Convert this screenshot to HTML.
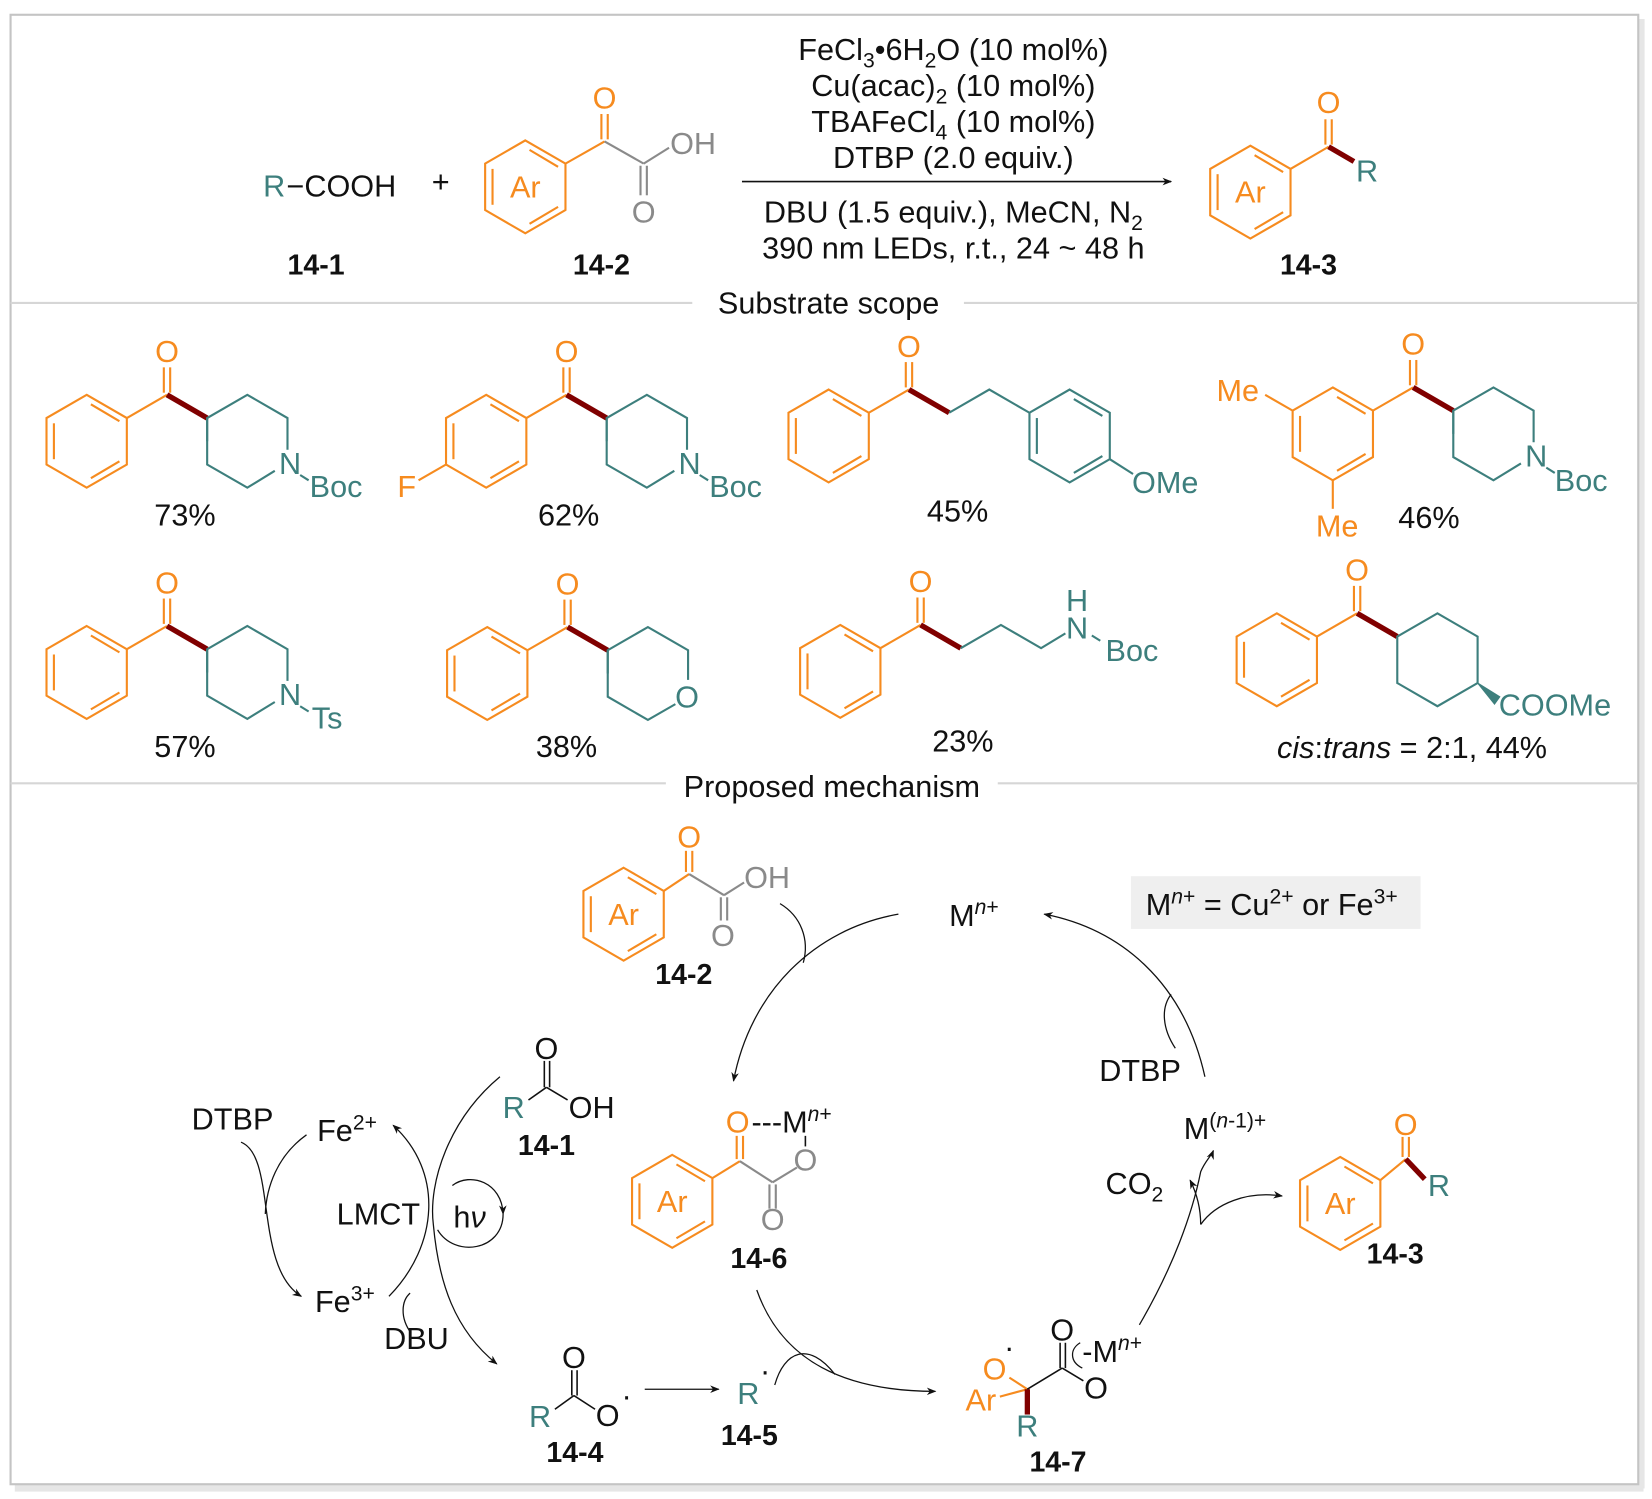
<!DOCTYPE html>
<html><head><meta charset="utf-8"><style>
html,body{margin:0;padding:0;background:#fff}
svg{display:block}
text{font-family:"Liberation Sans",Arial,sans-serif;font-size:29px}
.o{fill:#F68B1F}.t{fill:#3D7F7D}.g{fill:#8a8a8a}.k{fill:#111}.b{font-weight:bold;font-size:27px}
</style></head><body>
<svg width="1652" height="1499" viewBox="0 0 1563 1420" preserveAspectRatio="none" xmlns="http://www.w3.org/2000/svg">
<defs>
<marker id="ah" viewBox="0 0 10 10" refX="9" refY="5" markerWidth="9" markerHeight="9" orient="auto-start-reverse" markerUnits="userSpaceOnUse"><path d="M0,1 L10,5 L0,9 L3,5Z" fill="#111"/></marker>
<g id="bz" fill="none" stroke="#F68B1F" stroke-width="2">
<polygon points="0,-44 38,-22 38,22 0,44 -38,22 -38,-22"/>
<line x1="-31" y1="-17" x2="-31" y2="17"/><line x1="4" y1="-35" x2="31" y2="-19"/><line x1="4" y1="35" x2="31" y2="19"/>
</g>
<g id="bzt" fill="none" stroke="#3D7F7D" stroke-width="2">
<polygon points="0,-44 38,-22 38,22 0,44 -38,22 -38,-22"/>
<line x1="-31" y1="-17" x2="-31" y2="17"/><line x1="4" y1="-35" x2="31" y2="-19"/><line x1="4" y1="35" x2="31" y2="19"/>
</g>
<g id="arr"><use href="#bz"/><text x="0" y="10" text-anchor="middle" class="o">Ar</text></g>
<g id="bzco"><use href="#bz"/><g stroke="#F68B1F" stroke-width="2"><line x1="38" y1="-22" x2="76" y2="-44"/><line x1="73" y1="-46" x2="73" y2="-70"/><line x1="79" y1="-46" x2="79" y2="-70"/></g><text x="76" y="-75" text-anchor="middle" class="o">O</text><line x1="76" y1="-44" x2="114" y2="-22" stroke="#800000" stroke-width="5"/></g>
<g id="pip" fill="none" stroke="#3D7F7D" stroke-width="2"><polyline points="0,22 0,-0 38,-22 76,0 76,30"/><polyline points="0,0 0,44 38,66 64,50"/></g>
</defs>
<rect x="0" y="0" width="1563" height="1420" fill="#fff"/>
<rect x="14" y="1405" width="1541" height="8" fill="#e6e6e6"/>
<rect x="1550" y="18" width="6" height="1392" fill="#e6e6e6"/>
<rect x="10" y="14" width="1540" height="1392" fill="#fff" stroke="#c4c4c4" stroke-width="2"/>
<line x1="10" y1="287" x2="655" y2="287" stroke="#d6d6d6" stroke-width="2"/><line x1="912" y1="287" x2="1550" y2="287" stroke="#d6d6d6" stroke-width="2"/>
<text x="784" y="297" text-anchor="middle" class="k">Substrate scope</text>
<line x1="10" y1="742" x2="630" y2="742" stroke="#d6d6d6" stroke-width="2"/><line x1="944" y1="742" x2="1550" y2="742" stroke="#d6d6d6" stroke-width="2"/>
<text x="787" y="755" text-anchor="middle" class="k">Proposed mechanism</text>

<!-- TOP REACTION -->
<text x="249" y="186" class="t">R</text><text x="271" y="186" class="k">−COOH</text>
<text x="417" y="182" text-anchor="middle" class="k">+</text>
<use href="#arr" x="497" y="177"/>
<g stroke="#F68B1F" stroke-width="2"><line x1="535" y1="155" x2="572" y2="134"/><line x1="569" y1="132" x2="569" y2="108"/><line x1="575" y1="132" x2="575" y2="108"/></g>
<text x="572" y="103" text-anchor="middle" class="o">O</text>
<g stroke="#8a8a8a" stroke-width="2"><line x1="572" y1="134" x2="609" y2="155"/><line x1="609" y1="155" x2="633" y2="140"/><line x1="606" y1="157" x2="606" y2="185"/><line x1="612" y1="157" x2="612" y2="185"/></g>
<text x="634" y="146" class="g">OH</text><text x="609" y="211" text-anchor="middle" class="g">O</text>
<text x="299" y="260" text-anchor="middle" class="k b">14-1</text>
<text x="569" y="260" text-anchor="middle" class="k b">14-2</text>
<line x1="702" y1="172" x2="1108" y2="172" stroke="#111" stroke-width="1.5" marker-end="url(#ah)"/>
<g text-anchor="middle" class="k">
<text x="902" y="57">FeCl<tspan font-size="20" dy="7">3</tspan><tspan dy="-7">•6H</tspan><tspan font-size="20" dy="7">2</tspan><tspan dy="-7">O (10 mol%)</tspan></text>
<text x="902" y="91">Cu(acac)<tspan font-size="20" dy="7">2</tspan><tspan dy="-7"> (10 mol%)</tspan></text>
<text x="902" y="125">TBAFeCl<tspan font-size="20" dy="7">4</tspan><tspan dy="-7"> (10 mol%)</tspan></text>
<text x="902" y="159">DTBP (2.0 equiv.)</text>
<text x="902" y="211">DBU (1.5 equiv.), MeCN, N<tspan font-size="20" dy="7">2</tspan></text>
<text x="902" y="245">390 nm LEDs, r.t., 24 ~ 48 h</text>
</g>
<use href="#arr" x="1183" y="182"/>
<g stroke="#F68B1F" stroke-width="2"><line x1="1221" y1="160" x2="1257" y2="139"/><line x1="1254" y1="137" x2="1254" y2="113"/><line x1="1260" y1="137" x2="1260" y2="113"/></g>
<text x="1257" y="107" text-anchor="middle" class="o">O</text>
<line x1="1257" y1="139" x2="1281" y2="153" stroke="#800000" stroke-width="5"/>
<text x="1283" y="172" class="t">R</text>
<text x="1238" y="260" text-anchor="middle" class="k b">14-3</text>

<!-- SUBSTRATES ROW 1 -->
<use href="#bzco" x="82" y="418"/><use href="#pip" x="196" y="396"/>
<text x="264" y="449" class="t">N</text><line x1="284" y1="450" x2="292" y2="455" stroke="#3D7F7D" stroke-width="2"/><text x="293" y="471" class="t">Boc</text>
<text x="175" y="498" text-anchor="middle" class="k">73%</text>

<use href="#bzco" x="460" y="418"/><use href="#pip" x="574" y="396"/>
<line x1="422" y1="440" x2="396" y2="455" stroke="#F68B1F" stroke-width="2"/><text x="376" y="471" class="o">F</text>
<text x="642" y="449" class="t">N</text><line x1="662" y1="450" x2="670" y2="455" stroke="#3D7F7D" stroke-width="2"/><text x="671" y="471" class="t">Boc</text>
<text x="538" y="498" text-anchor="middle" class="k">62%</text>

<use href="#bzco" x="784" y="413"/>
<polyline points="898,391 936,369 974,391" fill="none" stroke="#3D7F7D" stroke-width="2"/>
<use href="#bzt" x="1012" y="413"/>
<line x1="1050" y1="435" x2="1072" y2="449" stroke="#3D7F7D" stroke-width="2"/>
<text x="1071" y="467" class="t">OMe</text>
<text x="906" y="494" text-anchor="middle" class="k">45%</text>

<use href="#bzco" x="1261" y="411"/><use href="#pip" x="1375" y="389"/>
<line x1="1223" y1="389" x2="1197" y2="374" stroke="#F68B1F" stroke-width="2"/><text x="1151" y="380" class="o">Me</text>
<line x1="1261" y1="455" x2="1261" y2="482" stroke="#F68B1F" stroke-width="2"/><text x="1245" y="508" class="o">Me</text>
<text x="1443" y="442" class="t">N</text><line x1="1463" y1="443" x2="1471" y2="448" stroke="#3D7F7D" stroke-width="2"/><text x="1471" y="465" class="t">Boc</text>
<text x="1352" y="500" text-anchor="middle" class="k">46%</text>

<!-- SUBSTRATES ROW 2 -->
<use href="#bzco" x="82" y="637"/><use href="#pip" x="196" y="615"/>
<text x="264" y="668" class="t">N</text><line x1="284" y1="669" x2="292" y2="674" stroke="#3D7F7D" stroke-width="2"/><text x="295" y="690" class="t">Ts</text>
<text x="175" y="717" text-anchor="middle" class="k">57%</text>

<use href="#bzco" x="461" y="638"/>
<g fill="none" stroke="#3D7F7D" stroke-width="2"><polyline points="575,638 575,616 613,594 651,616 651,644"/><polyline points="575,616 575,660 613,682 639,667"/></g>
<text x="650" y="670" text-anchor="middle" class="t">O</text>
<text x="536" y="717" text-anchor="middle" class="k">38%</text>

<use href="#bzco" x="795" y="636"/>
<polyline points="909,614 947,592 985,614 1008,600" fill="none" stroke="#3D7F7D" stroke-width="2"/>
<text x="1019" y="605" text-anchor="middle" class="t">N</text><text x="1019" y="579" text-anchor="middle" class="t">H</text>
<line x1="1033" y1="602" x2="1041" y2="607" stroke="#3D7F7D" stroke-width="2"/><text x="1046" y="626" class="t">Boc</text>
<text x="911" y="712" text-anchor="middle" class="k">23%</text>

<use href="#bzco" x="1208" y="625"/>
<polygon points="1322,603 1360,581 1398,603 1398,647 1360,669 1322,647" fill="none" stroke="#3D7F7D" stroke-width="2"/>
<polygon points="1398,647 1414,667 1419,660" fill="#3D7F7D" stroke="#3D7F7D" stroke-width="1"/>
<text x="1418" y="678" class="t">COOMe</text>
<text x="1336" y="718" text-anchor="middle" class="k"><tspan font-style="italic">cis</tspan>:<tspan font-style="italic">trans</tspan> = 2:1, 44%</text>

<!-- MECHANISM -->
<use href="#arr" x="590" y="866"/>
<g stroke="#F68B1F" stroke-width="2"><line x1="628" y1="844" x2="652" y2="828"/><line x1="649" y1="826" x2="649" y2="806"/><line x1="655" y1="826" x2="655" y2="806"/></g>
<text x="652" y="803" text-anchor="middle" class="o">O</text>
<g stroke="#8a8a8a" stroke-width="2"><line x1="652" y1="828" x2="685" y2="848"/><line x1="685" y1="848" x2="704" y2="836"/><line x1="682" y1="850" x2="682" y2="872"/><line x1="688" y1="850" x2="688" y2="872"/></g>
<text x="704" y="841" class="g">OH</text><text x="684" y="896" text-anchor="middle" class="g">O</text>
<text x="647" y="932" text-anchor="middle" class="k b">14-2</text>

<text x="898" y="877" class="k">M<tspan font-size="20" dy="-11" font-style="italic">n</tspan><tspan font-size="20">+</tspan></text>
<rect x="1070" y="830" width="274" height="50" fill="#efefef"/>
<text x="1084" y="867" class="k">M<tspan font-size="20" dy="-11" font-style="italic">n</tspan><tspan font-size="20">+</tspan><tspan dy="11"> = Cu</tspan><tspan font-size="20" dy="-11">2+</tspan><tspan dy="11"> or Fe</tspan><tspan font-size="20" dy="-11">3+</tspan></text>

<g fill="none" stroke="#111" stroke-width="1.2">
<path d="M850,866 C770,880 710,940 694,1024" marker-end="url(#ah)"/>
<path d="M738,856 C758,868 766,890 760,912"/>
<path d="M1140,1020 C1120,930 1060,880 988,866" marker-end="url(#ah)"/>
<path d="M1112,993 C1100,975 1098,955 1108,942"/>
<path d="M1078,1255 C1110,1200 1128,1150 1136,1110 C1140,1100 1146,1095 1148,1090" marker-end="url(#ah)"/>
<path d="M1136,1160 C1136,1145 1132,1130 1126,1118" marker-end="url(#ah)"/>
<path d="M1136,1160 C1150,1140 1180,1128 1213,1133" marker-end="url(#ah)"/>
<path d="M716,1222 C740,1290 800,1318 885,1318" marker-end="url(#ah)"/>
<path d="M733,1312 C742,1280 765,1270 790,1302"/>
<path d="M610,1316 L680,1316" marker-end="url(#ah)"/>
<path d="M228,1082 C262,1095 240,1200 285,1228" marker-end="url(#ah)"/>
<path d="M290,1075 C262,1095 252,1125 251,1150"/>
<path d="M368,1228 C415,1180 420,1110 372,1066" marker-end="url(#ah)"/>
<path d="M473,1020 C425,1060 405,1120 410,1160 C415,1215 430,1260 470,1292" marker-end="url(#ah)"/>
<path d="M389,1263 C378,1248 380,1232 388,1225"/>
<path d="M428,1123 C445,1110 475,1120 476,1150" marker-end="url(#ah)"/>
<path d="M476,1150 C476,1185 430,1192 414,1165"/>
</g>
<text x="1040" y="1024" class="k">DTBP</text>
<text x="1120" y="1079" class="k">M<tspan font-size="20" dy="-11">(<tspan font-style="italic">n</tspan>-1)+</tspan></text>
<text x="1046" y="1131" class="k">CO<tspan font-size="20" dy="7">2</tspan></text>
<use href="#arr" x="1268" y="1140"/>
<g stroke="#F68B1F" stroke-width="2"><line x1="1306" y1="1118" x2="1330" y2="1098"/><line x1="1327" y1="1096" x2="1327" y2="1077"/><line x1="1333" y1="1096" x2="1333" y2="1077"/></g>
<text x="1330" y="1075" text-anchor="middle" class="o">O</text>
<line x1="1330" y1="1098" x2="1348" y2="1117" stroke="#800000" stroke-width="5"/>
<text x="1351" y="1133" class="t">R</text>
<text x="1320" y="1197" text-anchor="middle" class="k b">14-3</text>

<!-- 14-6 -->
<use href="#arr" x="636" y="1138"/>
<g stroke="#F68B1F" stroke-width="2"><line x1="674" y1="1116" x2="700" y2="1100"/><line x1="697" y1="1098" x2="697" y2="1076"/><line x1="703" y1="1098" x2="703" y2="1076"/></g>
<text x="698" y="1073" text-anchor="middle" class="o">O</text>
<text x="711" y="1073" class="k">---M<tspan font-size="20" dy="-11" font-style="italic">n</tspan><tspan font-size="20">+</tspan></text>
<g stroke="#8a8a8a" stroke-width="2"><line x1="700" y1="1100" x2="731" y2="1120"/><line x1="731" y1="1120" x2="754" y2="1106"/><line x1="728" y1="1122" x2="728" y2="1145"/><line x1="734" y1="1122" x2="734" y2="1145"/></g>
<line x1="762" y1="1076" x2="762" y2="1086" stroke="#111" stroke-width="1.5"/>
<text x="762" y="1109" text-anchor="middle" class="g">O</text>
<text x="731" y="1165" text-anchor="middle" class="g">O</text>
<text x="718" y="1201" text-anchor="middle" class="k b">14-6</text>

<!-- 14-1 mech -->
<g stroke="#111" stroke-width="1.5"><line x1="515" y1="1005" x2="515" y2="1030"/><line x1="520" y1="1005" x2="520" y2="1030"/><line x1="517" y1="1030" x2="500" y2="1042"/><line x1="517" y1="1030" x2="537" y2="1042"/></g>
<text x="517" y="1003" text-anchor="middle" class="k">O</text>
<text x="486" y="1059" text-anchor="middle" class="t">R</text><text x="538" y="1059" class="k">OH</text>
<text x="517" y="1094" text-anchor="middle" class="k b">14-1</text>
<text x="220" y="1070" text-anchor="middle" class="k">DTBP</text>
<text x="300" y="1081" class="k">Fe<tspan font-size="20" dy="-11">2+</tspan></text>
<text x="358" y="1160" text-anchor="middle" class="k">LMCT</text>
<text x="429" y="1163" class="k" font-family="Liberation Serif">h<tspan font-style="italic">ν</tspan></text>
<text x="298" y="1243" class="k">Fe<tspan font-size="20" dy="-11">3+</tspan></text>
<text x="394" y="1278" text-anchor="middle" class="k">DBU</text>

<!-- 14-4 -->
<g stroke="#111" stroke-width="1.5"><line x1="541" y1="1298" x2="541" y2="1322"/><line x1="546" y1="1298" x2="546" y2="1322"/><line x1="543" y1="1322" x2="525" y2="1335"/><line x1="543" y1="1322" x2="563" y2="1335"/></g>
<text x="543" y="1296" text-anchor="middle" class="k">O</text>
<text x="511" y="1352" text-anchor="middle" class="t">R</text><text x="575" y="1351" text-anchor="middle" class="k">O</text><text x="588" y="1332" class="k" font-size="18">·</text>
<text x="544" y="1385" text-anchor="middle" class="k b">14-4</text>
<text x="708" y="1330" text-anchor="middle" class="t">R</text><text x="719" y="1308" class="k" font-size="18">·</text>
<text x="709" y="1369" text-anchor="middle" class="k b">14-5</text>

<!-- 14-7 -->
<g stroke-width="2"><line x1="955" y1="1305" x2="972" y2="1316" stroke="#F68B1F"/><line x1="946" y1="1323" x2="972" y2="1316" stroke="#F68B1F"/><line x1="972" y1="1316" x2="972" y2="1340" stroke="#800000" stroke-width="5"/><line x1="972" y1="1316" x2="1005" y2="1296" stroke="#111" stroke-width="1.5"/><line x1="1003" y1="1272" x2="1003" y2="1296" stroke="#111" stroke-width="1.5"/><line x1="1008" y1="1272" x2="1008" y2="1296" stroke="#111" stroke-width="1.5"/><line x1="1005" y1="1296" x2="1025" y2="1308" stroke="#111" stroke-width="1.5"/></g>
<path d="M1022,1272 C1012,1278 1012,1290 1024,1296" fill="none" stroke="#111" stroke-width="1.2"/>
<text x="941" y="1307" text-anchor="middle" class="o">O</text><text x="950" y="1286" class="k" font-size="18">·</text>
<text x="928" y="1336" text-anchor="middle" class="o">Ar</text>
<text x="972" y="1361" text-anchor="middle" class="t">R</text>
<text x="1005" y="1270" text-anchor="middle" class="k">O</text>
<text x="1037" y="1325" text-anchor="middle" class="k">O</text>
<text x="1024" y="1290" class="k">-M<tspan font-size="20" dy="-11" font-style="italic">n</tspan><tspan font-size="20">+</tspan></text>
<text x="1001" y="1394" text-anchor="middle" class="k b">14-7</text>
</svg>
</body></html>
